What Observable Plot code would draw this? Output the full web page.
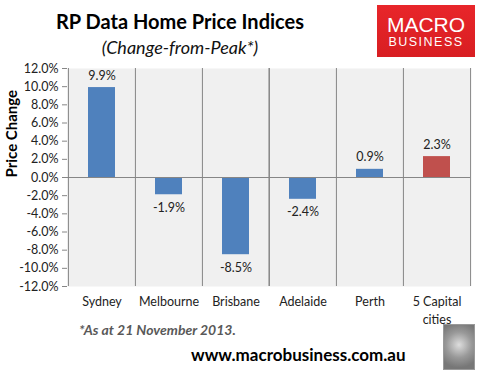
<!DOCTYPE html>
<html><head><meta charset="utf-8">
<script src="https://cdn.jsdelivr.net/npm/d3@7"></script>
<script src="https://cdn.jsdelivr.net/npm/@observablehq/plot@0.6"></script>
<style>
body{margin:0;background:#fff;font-family:Lato,"Open Sans",sans-serif;}
#wrap{position:relative;width:485px;height:373px;overflow:hidden;}
#chart{position:absolute;left:0;top:0;}
.t{position:absolute;white-space:nowrap;}
</style></head>
<body><div id="wrap">
<div id="chart"></div>
<div class="t" style="left:0;width:360px;text-align:center;top:9px;font-size:20px;font-weight:bold;color:#000">RP Data Home Price Indices</div>
<div class="t" style="left:0;width:360px;text-align:center;top:36px;font-size:18px;font-style:italic;color:#111">(Change-from-Peak*)</div>
<div class="t" style="left:377px;top:5px;width:98px;height:52px;background:linear-gradient(#e8262a,#d81e22);color:#fff;text-align:center;">
 <div style="font-family:'Liberation Sans',Arial,sans-serif;font-size:21px;line-height:21px;margin-top:9px;">MACRO</div>
 <div style="font-family:'Liberation Sans',Arial,sans-serif;font-size:12.5px;letter-spacing:1.5px;line-height:14px;">BUSINESS</div>
</div>
<div class="t" style="left:79px;top:321px;font-size:14px;font-weight:bold;font-style:italic;color:#595959">*As at 21 November 2013.</div>
<div class="t" style="left:191px;top:344px;font-size:17px;font-weight:bold;color:#000">www.macrobusiness.com.au</div>
<div class="t" style="left:443px;top:324px;width:30px;height:44px;border:1px solid #999;background:radial-gradient(circle at 50% 45%,#ddd 0,#999 45%,#777 80%);"></div>
</div>
<script>
const cities = ["Sydney","Melbourne","Brisbane","Adelaide","Perth","5 Capital\ncities"];
const changes = [9.9,-1.9,-8.5,-2.4,0.9,2.3];
const colors = ["#4f81bd","#4f81bd","#4f81bd","#4f81bd","#4f81bd","#c0504d"];
const yTicks = [-12,-10,-8,-6,-4,-2,0,2,4,6,8,10,12];
const data = cities.map((c,i)=>({city:c,value:changes[i],color:colors[i]}));
const W=485,H=373,mL=67,mR=15,mT=68,mB=87;
const band=(W-mL-mR)/cities.length;
const plot = Plot.plot({
  width:W,height:H,marginLeft:mL,marginRight:mR,marginTop:mT,marginBottom:mB,
  style:{fontFamily:"Lato,'Open Sans',sans-serif",fontSize:"12.5px",color:"#222",background:"transparent"},
  x:{domain:cities,padding:0.6,paddingOuter:0.3,axis:null},
  y:{domain:[-12,12],ticks:yTicks,tickFormat:d=>d.toFixed(1)+"%",label:null},
  marks:[
    Plot.frame({fill:"#f0f0f0",stroke:null}),
    Plot.barY(data,{x:"city",y:"value",fill:"color"}),
    Plot.ruleY([0],{stroke:"#868686",strokeWidth:1}),
    Plot.tickX(data,{x:"city",y1:0,y2:-0.55,dx:-band/2,stroke:"#868686"}),
    Plot.tickX(data.slice(-1),{x:"city",y1:0,y2:-0.55,dx:band/2,stroke:"#868686"}),
    Plot.axisY({ticks:yTicks,tickFormat:d=>d.toFixed(1)+"%",tickSize:5,tickPadding:4,stroke:"#868686",fill:"#222",fontSize:12.5,label:null}),
    Plot.ruleX([0],{frameAnchor:"left",x:null,y1:-12,y2:12,stroke:"#868686"}),
    Plot.text(data,{x:"city",y:"value",text:d=>d.value.toFixed(1)+"%",
      filter:d=>d.value>=0,dy:-12,fill:"#222",fontSize:12.5}),
    Plot.text(data,{x:"city",y:"value",text:d=>d.value.toFixed(1)+"%",
      filter:d=>d.value<0,dy:13,fill:"#222",fontSize:12.5}),
    Plot.text(data,{x:"city",text:"city",frameAnchor:"bottom",dy:7,lineAnchor:"top",lineHeight:1.45,fill:"#222",fontSize:12.5}),
    Plot.text(["Price Change"],{frameAnchor:"left",dx:-55,rotate:-90,text:d=>d,fontWeight:"bold",fontSize:15,fill:"#000"})
  ]
});
document.getElementById("chart").appendChild(plot);
</script>
</body></html>
